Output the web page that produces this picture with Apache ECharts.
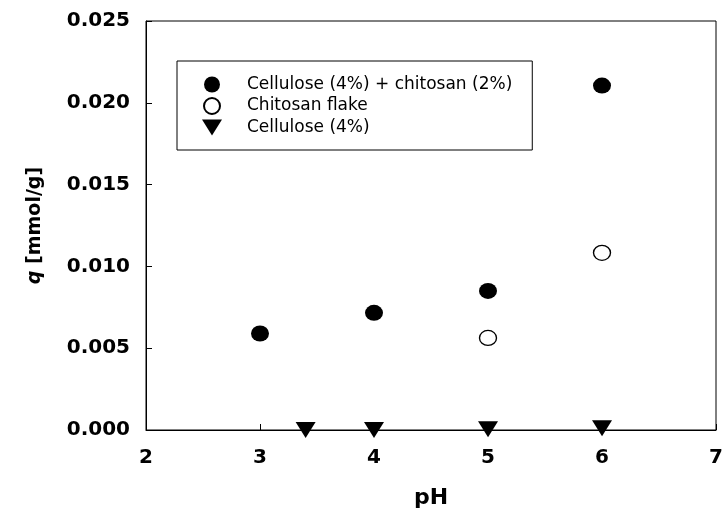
<!DOCTYPE html>
<html>
<head>
<meta charset="utf-8">
<script src="https://cdn.jsdelivr.net/npm/echarts@6/dist/echarts.min.js"></script>
<style>html,body{margin:0;padding:0;background:#fff}#c{width:725px;height:512px}</style>
</head>
<body>
<div id="c"></div>
<script>
var seriesNames = ['Cellulose (4%) + chitosan (2%)', 'Chitosan flake', 'Cellulose (4%)'];
var blendPH = [3, 4, 5, 6];
var blendQ = [0.0059, 0.00716, 0.0085, 0.02105];
var flakePH = [5, 6];
var flakeQ = [0.00563, 0.01083];
var cellPH = [3.4, 4, 5, 6];
var cellQ = [0.0, 0.0, 0.00005, 0.0001];
var xTicks = [2, 3, 4, 5, 6, 7];
var yTicks = [0, 0.005, 0.01, 0.015, 0.02, 0.025];

function pairs(xs, ys) { return xs.map(function (x, i) { return [x, ys[i]]; }); }

var font = 'DejaVu Sans, Liberation Sans, Arial, sans-serif';
var tri = 'path://M0,0 L20,0 L10,16 Z';
var chart = echarts.init(document.getElementById('c'), null, { renderer: 'canvas' });
chart.setOption({
  animation: false,
  backgroundColor: '#fff',
  grid: { left: 146, right: 9, top: 21, bottom: 82, outerBoundsMode: 'none', containLabel: false,
          show: true, borderColor: '#000', borderWidth: 1 },
  legend: {
    orient: 'vertical', left: 177, top: 61,
    padding: [15, 20, 14, 25],
    borderColor: '#000', borderWidth: 1, backgroundColor: '#fff',
    itemWidth: 20, itemHeight: 16, itemGap: 4,
    textStyle: { fontFamily: font, fontSize: 17, lineHeight: 16, color: '#000', padding: [0, 0, 0, 20] },
    data: [
      { name: seriesNames[0], icon: 'circle' },
      { name: seriesNames[1], icon: 'circle' },
      { name: seriesNames[2], icon: tri }
    ]
  },
  xAxis: {
    type: 'value', min: xTicks[0], max: xTicks[xTicks.length - 1], interval: 1,
    name: 'pH', nameLocation: 'middle', nameGap: 57,
    nameTextStyle: { fontFamily: font, fontSize: 22, fontWeight: 'bold', color: '#000' },
    axisLine: { show: true, lineStyle: { color: '#000', width: 1 } },
    axisTick: { show: true, inside: true, length: 6, lineStyle: { color: '#000' } },
    axisLabel: { fontFamily: font, fontSize: 20, fontWeight: 'bold', color: '#000', margin: 18 },
    splitLine: { show: false }
  },
  yAxis: {
    type: 'value', min: yTicks[0], max: yTicks[yTicks.length - 1], interval: 0.005,
    name: '{i|q} [mmol/g]', nameLocation: 'middle', nameGap: 101, nameRotate: 90,
    nameTextStyle: {
      fontFamily: font, fontSize: 19, fontWeight: 'bold', color: '#000',
      rich: { i: { fontFamily: font, fontSize: 19, fontWeight: 'bold', fontStyle: 'italic', color: '#000' } }
    },
    axisLine: { show: true, lineStyle: { color: '#000', width: 1 } },
    axisTick: { show: true, inside: true, length: 6, lineStyle: { color: '#000' } },
    axisLabel: {
      fontFamily: font, fontSize: 20, fontWeight: 'bold', color: '#000', margin: 16,
      formatter: function (v) { return v.toFixed(3); }
    },
    splitLine: { show: false }
  },
  series: [
    {
      name: seriesNames[0], type: 'scatter', symbol: 'circle', symbolSize: [18, 16], clip: false,
      itemStyle: { color: '#000', borderColor: '#000', borderWidth: 0, opacity: 1 },
      data: pairs(blendPH, blendQ)
    },
    {
      name: seriesNames[1], type: 'scatter', symbol: 'circle', symbolSize: [17, 15], clip: false,
      itemStyle: { color: '#fff', borderColor: '#000', borderWidth: 1.3, opacity: 1 },
      data: pairs(flakePH, flakeQ)
    },
    {
      name: seriesNames[2], type: 'scatter', symbol: tri, symbolSize: [20, 16], clip: false,
      itemStyle: { color: '#000', borderColor: '#000', borderWidth: 0, opacity: 1 },
      data: pairs(cellPH, cellQ)
    }
  ]
});
</script>
</body>
</html>
